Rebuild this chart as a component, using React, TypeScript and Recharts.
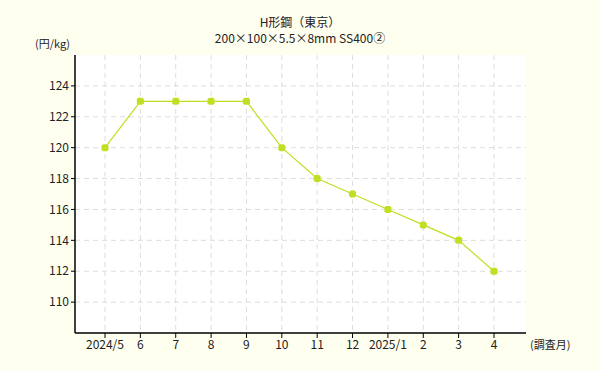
import { LineChart, Line, XAxis, YAxis, CartesianGrid } from 'recharts'

// H形鋼（東京） 200×100×5.5×8mm SS400② monthly price

const months = ['2024/5', '6', '7', '8', '9', '10', '11', '12', '2025/1', '2', '3', '4']
const prices = [120, 123, 123, 123, 123, 120, 118, 117, 116, 115, 114, 112]
const yTicks = [110, 112, 114, 116, 118, 120, 122, 124]

const LINE_COLOR = '#c2de22'
const FONT = '"Noto Sans CJK JP", "DejaVu Sans", sans-serif'

const data = months.map((m, i) => ({ month: m, price: prices[i] }))

const SquareDot = (props: any) => {
  const { cx, cy, index } = props
  if (cx == null || cy == null) return null
  return (
    <path
      key={index}
      d={`M${cx - 2},${cy - 3.5}h4l1.5,1.5v4l-1.5,1.5h-4l-1.5,-1.5v-4z`}
      fill={LINE_COLOR}
    />
  )
}

export default function App() {
  return (
    <div
      style={{
        position: 'absolute', left: 0, top: 0, width: 600, height: 370,
        background: '#fffff0', fontFamily: FONT, color: '#222',
      }}
    >
      <div style={{ position: 'absolute', top: 14, left: 0, width: 600, textAlign: 'center', fontSize: 12, lineHeight: '16px' }}>
        <div>H形鋼（東京）</div>
        <div>200×100×5.5×8mm SS400②</div>
      </div>
      <div style={{ position: 'absolute', left: 35, top: 35, fontSize: 11 }}>(円/kg)</div>
      <div style={{ position: 'absolute', left: 530, top: 336, fontSize: 11 }}>(調査月)</div>
      <LineChart
        width={600}
        height={370}
        data={data}
        margin={{ top: 55, right: 74, bottom: 0, left: 0 }}
        style={{ position: 'absolute', left: 0, top: 0 }}
      >
        {/* grid lines only at the real ticks, not at the plot edges */}
        <CartesianGrid fill="#ffffff" stroke="#dddddd" strokeDasharray="5 4" syncWithTicks />
        <XAxis
          dataKey="month"
          height={37}
          padding={{ left: 30, right: 32 }}
          interval={0}
          tickSize={5}
          axisLine={{ stroke: '#000', strokeWidth: 1.5 }}
          tickLine={{ stroke: '#000' }}
          tick={{ fill: '#222', fontSize: 12, fontFamily: FONT }}
        />
        <YAxis
          width={75}
          domain={[108, 126]}
          ticks={yTicks}
          interval={0}
          tickSize={4}
          axisLine={{ stroke: '#000', strokeWidth: 1.5 }}
          tickLine={{ stroke: '#000' }}
          tick={{ fill: '#222', fontSize: 12, fontFamily: FONT }}
        />
        <Line
          type="linear"
          dataKey="price"
          stroke={LINE_COLOR}
          strokeWidth={1.2}
          dot={<SquareDot />}
          activeDot={false}
          isAnimationActive={false}
        />
      </LineChart>
    </div>
  )
}
